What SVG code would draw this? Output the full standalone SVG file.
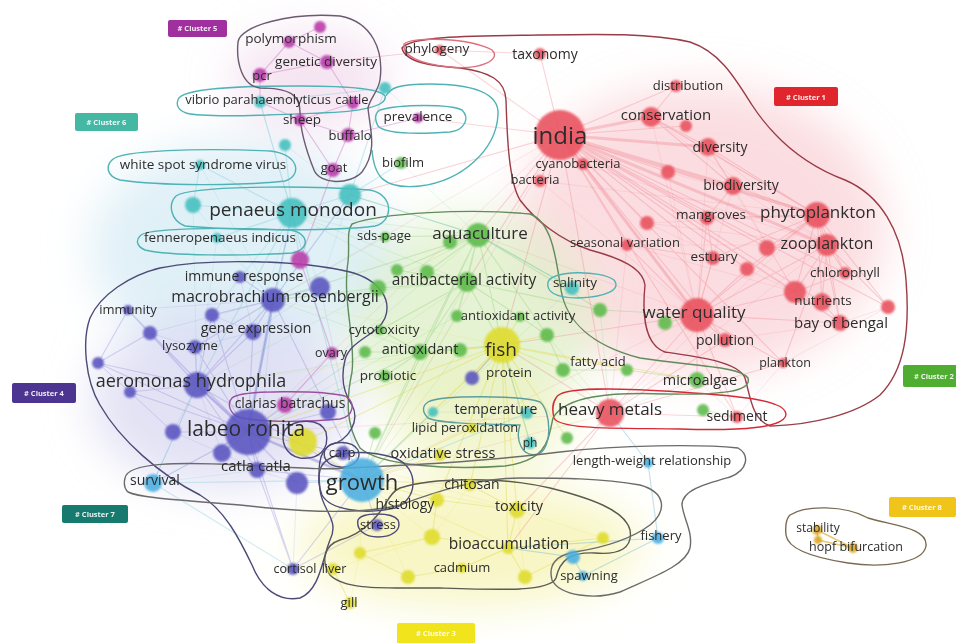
<svg xmlns="http://www.w3.org/2000/svg" width="956" height="643" viewBox="0 0 956 643">
<defs>
<filter id="haze" x="-50%" y="-50%" width="200%" height="200%"><feGaussianBlur stdDeviation="22"/></filter>
<filter id="soft" x="-30%" y="-30%" width="160%" height="160%"><feGaussianBlur stdDeviation="0.9"/></filter>
<style>
text{font-family:"Open Sans","Liberation Sans",sans-serif;fill:#2c2c2c;text-anchor:middle}
.node circle{filter:url(#soft);opacity:.88}
.c1 circle{fill:#e8505b}.c2 circle{fill:#5cba48}.c3 circle{fill:#dedb2b}.c4 circle{fill:#5852bf}
.c5 circle{fill:#b83aa9}.c6 circle{fill:#42bfbf}.c7 circle{fill:#4aaee0}.c8 circle{fill:#d9a420}
.lr{stroke:#ef7b88;stroke-opacity:.33;fill:none}.lg{stroke:#79c867;stroke-opacity:.3;fill:none}
.ly{stroke:#e2da45;stroke-opacity:.4;fill:none}.lp{stroke:#8884d8;stroke-opacity:.32;fill:none}
.lt{stroke:#6cc8d4;stroke-opacity:.32;fill:none}.lm{stroke:#c86cc0;stroke-opacity:.4;fill:none}
.lb{stroke:#5aa8d0;stroke-opacity:.35;fill:none}.lo{stroke:#d9a420;stroke-opacity:.6;fill:none}
.faint{stroke-opacity:.16}
.ol{fill:none;stroke-width:1.4;stroke-linejoin:round}
.badge text{fill:#fff;font-size:7.5px;font-weight:bold;fill-opacity:.9}
</style>
</defs>
<rect width="956" height="643" fill="#ffffff"/>
<g id="density" filter="url(#haze)">
<ellipse cx="700" cy="230" rx="185" ry="145" fill="#f8c6cd" opacity=".6"/>
<ellipse cx="470" cy="320" rx="125" ry="105" fill="#dcefc6" opacity=".75"/>
<ellipse cx="240" cy="250" rx="150" ry="110" fill="#cfe8f2" opacity=".65"/>
<ellipse cx="220" cy="400" rx="130" ry="90" fill="#d9d8f2" opacity=".75"/>
<ellipse cx="470" cy="545" rx="170" ry="60" fill="#f5f3b0" opacity=".75"/>
<ellipse cx="480" cy="420" rx="90" ry="60" fill="#eef2bd" opacity=".65"/>
<ellipse cx="310" cy="80" rx="80" ry="50" fill="#efd3ea" opacity=".6"/>
</g>
<g id="connectors">
<path class="lr" stroke-width="1.1" d="M560,135L540,54M560,135L440,50M560,135L676,86M560,135L686,126M560,135L583,164M560,135L540,181M560,135L668,172M560,135L707,218M560,135L647,223M560,135L627,245M560,135L767,248M560,135L713,258M560,135L747,269M560,135L845,273M560,135L795,292M560,135L822,302M560,135L840,323M560,135L725,340M560,135L783,363M560,135L610,413M560,135L737,417M560,135L478,235M560,135L502,345M560,135L350,195M560,135L418,118M560,135L467,282M560,135L888,307M817,215L827,245M817,215L845,273M817,215L795,292M817,215L822,302M817,215L840,323M817,215L888,307M817,215L733,186M817,215L708,147M817,215L707,218M817,215L713,258M817,215L697,315M817,215L651,117M817,215L767,248M817,215L747,269M827,245L795,292M827,245L822,302M827,245L845,273M827,245L840,323M827,245L888,307M827,245L697,315M827,245L767,248M827,245L783,363M697,315L610,413M697,315L725,340M697,315L737,417M697,315L795,292M697,315L627,245M697,315L707,218M697,315L713,258M697,315L697,380M697,315L502,345M697,315L840,323M697,315L783,363M697,315L747,269M610,413L737,417M610,413L725,340M610,413L502,345M610,413L508,548M610,413L517,510M610,413L783,363M708,147L733,186M651,117L676,86M651,117L708,147M540,54L440,50M733,186L707,218M707,218L713,258M713,258L627,245M795,292L840,323M795,292L845,273M822,302L840,323M440,50L327,62M651,117L733,186"/>
<path class="lr" stroke-width="3" stroke-opacity=".25" d="M560,135L651,117M560,135L817,215M560,135L697,315M560,135L708,147M560,135L733,186M560,135L827,245"/>
<path class="lr faint" stroke-width="1" d="M651,117L817,215M651,117L827,245M651,117L697,315M708,147L827,245M708,147L697,315M708,147L795,292M733,186L827,245M733,186L697,315M733,186L795,292M668,172L817,215M668,172L697,315M647,223L817,215M647,223L827,245M647,223L795,292M627,245L827,245M627,245L795,292M627,245L610,413M540,181L697,315M540,181L817,215M583,164L697,315M583,164L827,245M560,135L273,300M560,135L248,432M560,135L362,480M697,315L478,235M697,315L362,480M610,413L362,480M610,413L248,432M817,215L610,413M827,245L610,413M783,363L888,307M737,417L783,363M725,340L840,323M888,307L840,323"/>
<path class="lg" stroke-width="1.1" d="M478,235L467,282M478,235L427,272M478,235L385,237M478,235L457,316M478,235L502,345M478,235L420,352M478,235L362,480M478,235L572,288M478,235L350,195M478,235L273,300M478,235L600,310M478,235L547,335M478,235L450,242M478,235L397,270M467,282L427,272M467,282L397,270M467,282L378,288M467,282L457,316M467,282L420,352M467,282L380,330M467,282L502,345M467,282L520,317M467,282L547,335M467,282L600,310M420,352L460,350M420,352L365,352M420,352L502,345M420,352L362,480M420,352L248,432M378,288L273,300M380,330L420,352M600,310L697,315M563,370L627,370M627,370L697,380M547,335L563,370M665,323L697,315M703,410L737,417M385,376L420,352M375,433L362,480"/>
<path class="lg faint" stroke-width="1" d="M478,235L248,432M478,235L197,385M478,235L292,213M467,282L248,432M467,282L273,300M467,282L362,480M467,282L292,213M420,352L273,300M420,352L197,385M457,316L362,480M457,316L248,432M385,237L292,213M385,237L273,300M397,270L292,213M547,335L610,413M600,310L610,413M563,370L610,413M627,370L610,413M697,380L610,413M697,380L737,417M460,350L362,480M365,352L248,432"/>
<path class="ly" stroke-width="1.2" d="M502,345L460,350M502,345L520,317M502,345L547,335M502,345L563,370M502,345L472,378M502,345L433,412M502,345L527,413M502,345L362,480M502,345L248,432M502,345L517,510M502,345L437,500M502,345L470,485M502,345L508,548M502,345L697,380M502,345L627,370M502,345L303,442M502,345L530,443M502,345L567,438M362,480L437,500M362,480L470,485M517,510L508,548M508,548L432,537M508,548L525,577M508,548L603,538M508,548L462,568M517,510L470,485M437,500L432,537M360,553L408,577M333,569L350,603M408,577L462,568M303,442L362,480M303,442L248,432M432,537L360,553M525,577L603,538M362,480L472,428M362,480L440,455M437,500L517,510"/>
<path class="ly faint" stroke-width="1" d="M517,510L362,480M508,548L362,480M432,537L362,480M360,553L362,480M408,577L362,480M525,577L517,510M603,538L517,510M462,568L508,548M350,603L360,553M333,569L432,537M470,485L432,537M502,345L197,385M502,345L273,300M517,510L248,432M508,548L248,432"/>
<path class="lp" stroke-width="1.2" d="M248,432L197,385M248,432L273,300M248,432L257,470M248,432L362,480M248,432L173,432M248,432L222,453M248,432L297,483M248,432L285,405M248,432L328,412M248,432L153,483M248,432L293,569M248,432L253,332M248,432L128,310M248,432L195,347M248,432L343,453M248,432L98,363M248,432L130,392M248,432L212,315M248,432L150,333M197,385L98,363M197,385L130,392M197,385L212,315M197,385L150,333M197,385L195,347M197,385L128,310M197,385L273,300M197,385L362,480M197,385L253,332M197,385L257,470M273,300L240,277M273,300L320,287M273,300L253,332M273,300L292,213M273,300L350,195M273,300L362,480M273,300L212,315M273,300L195,347M128,310L98,363M150,333L98,363M293,569L362,480M293,569L257,470M362,480L257,470M362,480L297,483M362,480L343,453M362,480L377,525M377,525L293,569M502,345L472,378"/>
<path class="lp" stroke-width="3" stroke-opacity=".2" d="M248,432L197,385M248,432L362,480M248,432L273,300"/>
<path class="lp faint" stroke-width="1" d="M197,385L173,432M197,385L222,453M197,385L297,483M197,385L153,483M273,300L248,432M273,300L257,470M273,300L150,333M273,300L128,310M253,332L212,315M253,332L195,347M240,277L212,315M240,277L253,332M320,287L253,332M320,287L362,480M173,432L130,392M173,432L222,453M222,453L257,470M257,470L297,483M297,483L293,569M130,392L98,363M98,363L173,432M150,333L195,347"/>
<path class="lt" stroke-width="1.2" d="M292,213L193,205M292,213L350,195M292,213L200,165M292,213L217,238M292,213L260,102M292,213L285,145M292,213L300,260M292,213L362,480M292,213L248,432M350,195L385,88M350,195L401,163M260,102L385,88M200,165L193,205M362,480L153,483M153,483L197,385M362,480L433,412M362,480L527,413M530,443L502,345M572,288L478,235M292,213L197,385M350,195L478,235M153,483L293,569"/>
<path class="lt faint" stroke-width="1" d="M292,213L240,277M292,213L320,287M292,213L212,315M292,213L253,332M350,195L273,300M350,195L320,287M193,205L273,300M193,205L197,385M200,165L273,300M217,238L273,300M217,238L197,385M260,102L292,213M285,145L350,195M385,88L418,118M401,163L478,235M153,483L248,432M153,483L257,470M362,480L572,288M433,412L527,413"/>
<path class="lm" stroke-width="1.2" d="M320,27L289,42M289,42L327,62M327,62L260,75M289,42L260,75M260,75L260,102M300,120L348,135M348,135L333,170M353,103L348,135M300,120L333,170M353,103L300,120M418,118L348,135M333,170L300,260M300,260L332,353M285,405L332,353M300,120L260,102M327,62L353,103"/>
<path class="lb" stroke-width="1.2" d="M648,463L658,538M658,538L583,576M583,576L573,557M648,463L610,413M658,538L508,548M573,557L508,548"/>
<path class="lo" stroke-width="1.5" d="M817,530L853,548M817,530L818,540M818,540L853,548"/>
</g>
<g id="cluster-outlines">
<path class="ol" stroke="#9a3b46" d="M402,48C410,36 470,36 540,35C600,34 650,33 690,42C720,52 735,78 752,105C775,140 805,165 845,180C880,195 902,230 906,280C910,330 905,370 880,395C855,415 810,425 770,426C752,420 750,395 745,378C738,362 700,357 665,352C645,345 642,315 645,285C643,268 620,258 590,250C560,240 535,220 520,200C508,180 507,130 506,100C505,80 490,72 460,68C430,66 405,62 402,48Z"/>
<path class="ol" stroke="#e07080" d="M404,44C412,36 470,38 492,50C502,60 480,70 450,67C420,64 402,56 404,44Z"/>
<path class="ol" stroke="#d42a36" d="M556,398C560,386 620,388 680,392C740,396 785,400 786,414C786,428 740,431 680,429C620,428 560,430 554,418C552,410 553,402 556,398Z"/>
<path class="ol" stroke="#5f8c5a" d="M352,224C380,213 470,208 530,214C552,222 556,258 561,290C566,320 590,345 640,358C690,366 740,366 748,378C752,392 720,395 665,394C610,392 565,396 553,418C548,440 548,460 505,466C450,470 380,466 360,448C346,425 346,400 352,372C356,340 342,300 348,262C350,245 346,232 352,224Z"/>
<path class="ol" stroke="#4fb3b5" d="M178,100C180,88 240,86 300,86C340,86 380,88 385,96C388,106 360,112 320,113C270,115 205,118 186,113C178,110 176,105 178,100Z"/>
<path class="ol" stroke="#4fb3b5" d="M380,110C400,104 450,104 462,110C470,118 465,130 450,132C420,134 385,134 378,126C374,118 375,113 380,110Z"/>
<path class="ol" stroke="#4fb3b5" d="M372,150C374,175 382,190 420,186C462,181 496,150 498,115C500,92 470,84 430,84C398,84 390,88 386,96"/>
<path class="ol" stroke="#4fb3b5" d="M112,160C120,150 200,148 270,151C300,154 302,176 285,181C240,186 160,186 120,180C106,176 106,166 112,160Z"/>
<path class="ol" stroke="#4fb3b5" d="M176,196C190,186 300,185 370,190C395,195 393,222 375,226C330,232 230,230 185,226C170,220 168,204 176,196Z"/>
<path class="ol" stroke="#4fb3b5" d="M140,236C145,228 220,227 290,230C310,233 310,250 292,253C240,256 170,256 145,250C136,246 136,240 140,236Z"/>
<path class="ol" stroke="#4fb3b5" d="M548,282C552,270 600,270 614,280C622,290 605,297 578,298C556,298 546,292 548,282Z"/>
<path class="ol" stroke="#5a9fa0" d="M428,402C440,395 520,395 540,402C552,412 552,450 538,454C522,458 515,440 520,425C490,424 440,424 428,418C422,412 422,406 428,402Z"/>
<path class="ol" stroke="#6b5a70" d="M238,42C240,26 290,12 340,16C372,22 384,50 380,80C378,92 370,98 368,108C370,130 378,150 362,172C350,185 320,185 314,170C306,150 300,130 300,112C300,95 290,88 260,88C242,86 236,62 238,42Z"/>
<path class="ol" stroke="#4d4a78" d="M160,268C210,258 300,260 350,272C380,280 392,300 385,318C378,335 350,340 345,360C340,380 345,395 352,405C360,420 350,440 330,445C318,452 318,470 320,490C322,510 340,520 330,540C322,560 320,590 300,598C280,602 262,590 252,565C240,540 225,510 200,495C160,475 120,440 100,405C85,380 82,340 90,318C100,295 130,275 160,268Z"/>
<path class="ol" stroke="#9a4fa0" d="M232,398C240,390 320,390 345,396C356,402 354,416 340,419C300,423 250,422 236,416C228,410 228,402 232,398Z"/>
<path class="ol" stroke="#4d4a78" d="M325,450C330,440 352,440 358,450C362,460 352,468 340,467C328,466 322,458 325,450Z"/>
<path class="ol" stroke="#4d4a78" d="M285,430C295,418 320,418 326,432C330,450 318,460 300,458C285,455 280,440 285,430Z"/>
<path class="ol" stroke="#4d4a78" d="M358,520C362,512 392,512 398,520C402,530 392,537 378,537C365,537 356,530 358,520Z"/>
<path class="ol" stroke="#4d4a78" d="M320,470C325,452 360,448 395,458C420,468 418,500 395,508C365,515 330,510 322,495C318,485 318,477 320,470Z"/>
<path class="ol" stroke="#5a5a50" d="M400,488C430,478 500,476 550,488C590,498 625,510 630,530C633,548 620,555 595,553C570,552 560,560 556,578C550,592 500,590 440,588C380,588 345,590 330,575C320,560 325,545 340,540C360,535 375,520 385,505C390,495 395,490 400,488Z"/>
<path class="ol" stroke="#6b6b6b" d="M125,478C128,462 180,462 240,465C300,468 330,470 345,468C400,466 480,462 560,452C620,445 700,444 738,448C750,455 748,470 730,477C705,484 682,490 682,505C684,520 693,532 690,548C686,566 650,578 620,592C595,600 560,596 552,580C548,565 556,555 575,552C600,548 630,540 650,525C668,510 665,492 640,485C600,478 560,478 520,478C480,478 440,490 400,505C360,515 300,512 240,505C180,500 140,498 128,492C124,488 124,482 125,478Z"/>
<path class="ol" stroke="#7a6a50" d="M790,515C805,505 845,505 868,518C895,526 928,528 926,546C923,564 880,568 848,563C815,558 788,550 786,535C785,525 786,519 790,515Z"/>
</g>
<g id="nodes">
<g id="n-r-a" class="node c1"><circle cx="686" cy="126" r="6"/></g>
<g id="n-r-b" class="node c1"><circle cx="668" cy="172" r="7"/></g>
<g id="n-r-c" class="node c1"><circle cx="647" cy="223" r="7"/></g>
<g id="n-r-d" class="node c1"><circle cx="767" cy="248" r="8"/></g>
<g id="n-r-e" class="node c1"><circle cx="747" cy="269" r="7"/></g>
<g id="n-r-f" class="node c1"><circle cx="795" cy="292" r="11"/></g>
<g id="n-r-g" class="node c1"><circle cx="888" cy="307" r="7"/></g>
<g id="n-g-a" class="node c2"><circle cx="450" cy="242" r="7"/></g>
<g id="n-g-b" class="node c2"><circle cx="427" cy="272" r="7"/></g>
<g id="n-g-c" class="node c2"><circle cx="397" cy="270" r="6"/></g>
<g id="n-g-d" class="node c2"><circle cx="378" cy="288" r="8"/></g>
<g id="n-g-e" class="node c2"><circle cx="520" cy="317" r="5"/></g>
<g id="n-g-f" class="node c2"><circle cx="600" cy="310" r="7"/></g>
<g id="n-g-g" class="node c2"><circle cx="460" cy="350" r="7"/></g>
<g id="n-g-h" class="node c2"><circle cx="365" cy="352" r="6"/></g>
<g id="n-g-i" class="node c2"><circle cx="547" cy="335" r="7"/></g>
<g id="n-g-j" class="node c2"><circle cx="563" cy="370" r="7"/></g>
<g id="n-g-k" class="node c2"><circle cx="665" cy="323" r="7"/></g>
<g id="n-g-l" class="node c2"><circle cx="703" cy="410" r="6"/></g>
<g id="n-g-m" class="node c2"><circle cx="375" cy="433" r="6"/></g>
<g id="n-g-n" class="node c2"><circle cx="567" cy="438" r="6"/></g>
<g id="n-y-a" class="node c3"><circle cx="303" cy="442" r="14"/></g>
<g id="n-y-b" class="node c3"><circle cx="432" cy="537" r="8"/></g>
<g id="n-y-c" class="node c3"><circle cx="360" cy="553" r="6"/></g>
<g id="n-y-d" class="node c3"><circle cx="408" cy="577" r="7"/></g>
<g id="n-y-e" class="node c3"><circle cx="525" cy="577" r="7"/></g>
<g id="n-y-f" class="node c3"><circle cx="603" cy="538" r="6"/></g>
<g id="n-y-g" class="node c3"><circle cx="472" cy="428" r="5"/></g>
<g id="n-y-h" class="node c3"><circle cx="440" cy="455" r="6"/></g>
<g id="n-p-a" class="node c4"><circle cx="320" cy="287" r="10"/></g>
<g id="n-p-b" class="node c4"><circle cx="212" cy="315" r="7"/></g>
<g id="n-p-c" class="node c4"><circle cx="150" cy="333" r="7"/></g>
<g id="n-p-d" class="node c4"><circle cx="98" cy="363" r="6"/></g>
<g id="n-p-e" class="node c4"><circle cx="130" cy="392" r="6"/></g>
<g id="n-p-f" class="node c4"><circle cx="173" cy="432" r="8"/></g>
<g id="n-p-g" class="node c4"><circle cx="222" cy="453" r="9"/></g>
<g id="n-p-h" class="node c4"><circle cx="297" cy="483" r="11"/></g>
<g id="n-p-i" class="node c4"><circle cx="328" cy="412" r="8"/></g>
<g id="n-m-a" class="node c5"><circle cx="320" cy="27" r="6"/></g>
<g id="n-m-b" class="node c5"><circle cx="300" cy="260" r="9"/></g>
<g id="n-t-a" class="node c6"><circle cx="385" cy="88" r="6"/></g>
<g id="n-t-b" class="node c6"><circle cx="285" cy="145" r="6"/></g>
<g id="n-t-c" class="node c6"><circle cx="193" cy="205" r="8"/></g>
<g id="n-t-d" class="node c6"><circle cx="350" cy="195" r="11"/></g>
<g id="n-t-e" class="node c6"><circle cx="527" cy="413" r="6"/></g>
<g id="n-s-a" class="node c7"><circle cx="573" cy="557" r="7"/></g>
<g id="n-o-a" class="node c8"><circle cx="818" cy="540" r="4"/></g>

<g id="n-india" class="node c1"><circle cx="560" cy="135" r="25"/><text x="560" y="144" font-size="24">india</text></g>
<g id="n-taxonomy" class="node c1"><circle cx="540" cy="54" r="6"/><text x="545" y="59" font-size="14">taxonomy</text></g>
<g id="n-phylogeny" class="node c1"><circle cx="440" cy="50" r="5"/><text x="437" y="53" font-size="13.5">phylogeny</text></g>
<g id="n-distribution" class="node c1"><circle cx="676" cy="86" r="6"/><text x="688" y="90" font-size="13">distribution</text></g>
<g id="n-conservation" class="node c1"><circle cx="651" cy="117" r="10"/><text x="666" y="120" font-size="15">conservation</text></g>
<g id="n-diversity" class="node c1"><circle cx="708" cy="147" r="9"/><text x="720" y="152" font-size="14">diversity</text></g>
<g id="n-cyanobacteria" class="node c1"><circle cx="583" cy="164" r="6"/><text x="578" y="168" font-size="13">cyanobacteria</text></g>
<g id="n-bacteria" class="node c1"><circle cx="540" cy="181" r="6"/><text x="535" y="184" font-size="13">bacteria</text></g>
<g id="n-biodiversity" class="node c1"><circle cx="733" cy="186" r="9"/><text x="741" y="190" font-size="14">biodiversity</text></g>
<g id="n-mangroves" class="node c1"><circle cx="707" cy="218" r="7"/><text x="711" y="219" font-size="13.5">mangroves</text></g>
<g id="n-phytoplankton" class="node c1"><circle cx="817" cy="215" r="13"/><text x="818" y="218" font-size="17">phytoplankton</text></g>
<g id="n-seasonal" class="node c1"><circle cx="627" cy="245" r="6"/><text x="625" y="247" font-size="13">seasonal variation</text></g>
<g id="n-zooplankton" class="node c1"><circle cx="827" cy="245" r="11"/><text x="827" y="249" font-size="16">zooplankton</text></g>
<g id="n-estuary" class="node c1"><circle cx="713" cy="258" r="7"/><text x="714" y="261" font-size="13.5">estuary</text></g>
<g id="n-chlorophyll" class="node c1"><circle cx="845" cy="273" r="6"/><text x="845" y="277" font-size="13.5">chlorophyll</text></g>
<g id="n-nutrients" class="node c1"><circle cx="822" cy="302" r="9"/><text x="823" y="305" font-size="13.5">nutrients</text></g>
<g id="n-waterquality" class="node c1"><circle cx="697" cy="315" r="17"/><text x="694" y="318" font-size="17">water quality</text></g>
<g id="n-bayofbengal" class="node c1"><circle cx="840" cy="323" r="8"/><text x="841" y="328" font-size="15">bay of bengal</text></g>
<g id="n-pollution" class="node c1"><circle cx="725" cy="340" r="7"/><text x="725" y="345" font-size="14">pollution</text></g>
<g id="n-plankton" class="node c1"><circle cx="783" cy="363" r="5"/><text x="785" y="367" font-size="12.5">plankton</text></g>
<g id="n-heavymetals" class="node c1"><circle cx="610" cy="413" r="14"/><text x="610" y="415" font-size="17">heavy metals</text></g>
<g id="n-sediment" class="node c1"><circle cx="737" cy="417" r="6"/><text x="737" y="421" font-size="14">sediment</text></g>

<g id="n-aquaculture" class="node c2"><circle cx="478" cy="235" r="12"/><text x="480" y="239" font-size="17">aquaculture</text></g>
<g id="n-sdspage" class="node c2"><circle cx="385" cy="237" r="5"/><text x="384" y="240" font-size="13">sds-page</text></g>
<g id="n-antibacterial" class="node c2"><circle cx="467" cy="282" r="10"/><text x="464" y="285" font-size="15.5">antibacterial activity</text></g>
<g id="n-antioxidantactivity" class="node c2"><circle cx="457" cy="316" r="6"/><text x="518" y="320" font-size="13">antioxidant activity</text></g>
<g id="n-cytotoxicity" class="node c2"><circle cx="380" cy="330" r="5"/><text x="384" y="334" font-size="13.5">cytotoxicity</text></g>
<g id="n-antioxidant" class="node c2"><circle cx="420" cy="352" r="8"/><text x="420" y="354" font-size="14.5">antioxidant</text></g>
<g id="n-fattyacid" class="node c2"><circle cx="627" cy="370" r="6"/><text x="598" y="366" font-size="13">fatty acid</text></g>
<g id="n-microalgae" class="node c2"><circle cx="697" cy="380" r="8"/><text x="700" y="385" font-size="14.5">microalgae</text></g>
<g id="n-probiotic" class="node c2"><circle cx="385" cy="376" r="6"/><text x="388" y="380" font-size="13.5">probiotic</text></g>
<g id="n-biofilm" class="node c2"><circle cx="401" cy="163" r="6"/><text x="403" y="167" font-size="13">biofilm</text></g>

<g id="n-fish" class="node c3"><circle cx="502" cy="345" r="18"/><text x="501" y="356" font-size="19">fish</text></g>
<g id="n-lipid" class="node c3"><text x="465" y="432" font-size="13">lipid peroxidation</text></g>
<g id="n-oxidative" class="node c3"><text x="443" y="458" font-size="14.5">oxidative stress</text></g>
<g id="n-chitosan" class="node c3"><circle cx="470" cy="485" r="6"/><text x="472" y="489" font-size="14">chitosan</text></g>
<g id="n-histology" class="node c3"><circle cx="437" cy="500" r="7"/><text x="405" y="509" font-size="14">histology</text></g>
<g id="n-toxicity" class="node c3"><circle cx="517" cy="510" r="8"/><text x="519" y="511" font-size="14.5">toxicity</text></g>
<g id="n-bioaccumulation" class="node c3"><circle cx="508" cy="548" r="6"/><text x="509" y="549" font-size="15.5">bioaccumulation</text></g>
<g id="n-cadmium" class="node c3"><circle cx="462" cy="568" r="5"/><text x="462" y="572" font-size="13">cadmium</text></g>
<g id="n-liver" class="node c3"><circle cx="333" cy="569" r="6"/><text x="334" y="573" font-size="12.5">liver</text></g>
<g id="n-gill" class="node c3"><circle cx="350" cy="603" r="6"/><text x="349" y="607" font-size="13">gill</text></g>

<g id="n-macrobrachium" class="node c4"><circle cx="273" cy="300" r="12"/><text x="275" y="302" font-size="16">macrobrachium rosenbergii</text></g>
<g id="n-immuneresponse" class="node c4"><circle cx="240" cy="277" r="6"/><text x="244" y="281" font-size="14">immune response</text></g>
<g id="n-immunity" class="node c4"><circle cx="128" cy="310" r="5"/><text x="128" y="314" font-size="13">immunity</text></g>
<g id="n-geneexpression" class="node c4"><circle cx="253" cy="332" r="8"/><text x="256" y="333" font-size="14.5">gene expression</text></g>
<g id="n-lysozyme" class="node c4"><circle cx="195" cy="347" r="7"/><text x="190" y="350" font-size="13">lysozyme</text></g>
<g id="n-aeromonas" class="node c4"><circle cx="197" cy="385" r="13"/><text x="191" y="387" font-size="18">aeromonas hydrophila</text></g>
<g id="n-labeo" class="node c4"><circle cx="248" cy="432" r="23"/><text x="246" y="436" font-size="21">labeo rohita</text></g>
<g id="n-catla" class="node c4"><circle cx="257" cy="470" r="8"/><text x="256" y="471" font-size="15">catla catla</text></g>
<g id="n-carp" class="node c4"><circle cx="343" cy="453" r="7"/><text x="342" y="457" font-size="13">carp</text></g>
<g id="n-protein" class="node c4"><circle cx="472" cy="378" r="7"/><text x="509" y="377" font-size="13.5">protein</text></g>
<g id="n-stress" class="node c4"><circle cx="377" cy="525" r="6"/><text x="378" y="529" font-size="13">stress</text></g>
<g id="n-cortisol" class="node c4"><circle cx="293" cy="569" r="6"/><text x="295" y="573" font-size="12.5">cortisol</text></g>

<g id="n-polymorphism" class="node c5"><circle cx="289" cy="42" r="6"/><text x="291" y="43" font-size="13.5">polymorphism</text></g>
<g id="n-geneticdiversity" class="node c5"><circle cx="327" cy="62" r="7"/><text x="326" y="66" font-size="13.5">genetic diversity</text></g>
<g id="n-pcr" class="node c5"><circle cx="260" cy="75" r="7"/><text x="262" y="80" font-size="13">pcr</text></g>
<g id="n-cattle" class="node c5"><circle cx="353" cy="103" r="6"/><text x="352" y="104" font-size="13">cattle</text></g>
<g id="n-sheep" class="node c5"><circle cx="300" cy="120" r="6"/><text x="302" y="124" font-size="13.5">sheep</text></g>
<g id="n-buffalo" class="node c5"><circle cx="348" cy="135" r="7"/><text x="350" y="140" font-size="13">buffalo</text></g>
<g id="n-prevalence" class="node c5"><circle cx="418" cy="118" r="5"/><text x="418" y="121" font-size="13.5">prevalence</text></g>
<g id="n-goat" class="node c5"><circle cx="333" cy="170" r="7"/><text x="334" y="172" font-size="13">goat</text></g>
<g id="n-ovary" class="node c5"><circle cx="332" cy="353" r="6"/><text x="331" y="357" font-size="12.5">ovary</text></g>
<g id="n-clarias" class="node c5"><circle cx="285" cy="405" r="8"/><text x="290" y="408" font-size="14">clarias batrachus</text></g>

<g id="n-vibrio" class="node c6"><circle cx="260" cy="102" r="6"/><text x="258" y="104" font-size="13">vibrio parahaemolyticus</text></g>
<g id="n-whitespot" class="node c6"><circle cx="200" cy="165" r="5"/><text x="203" y="169" font-size="13.5">white spot syndrome virus</text></g>
<g id="n-penaeus" class="node c6"><circle cx="292" cy="213" r="15"/><text x="293" y="216" font-size="19">penaeus monodon</text></g>
<g id="n-fenneropenaeus" class="node c6"><circle cx="217" cy="238" r="5"/><text x="220" y="242" font-size="13.5">fenneropenaeus indicus</text></g>
<g id="n-salinity" class="node c6"><circle cx="572" cy="288" r="7"/><text x="575" y="287" font-size="13.5">salinity</text></g>
<g id="n-temperature" class="node c6"><circle cx="433" cy="412" r="5"/><text x="496" y="414" font-size="14">temperature</text></g>
<g id="n-ph" class="node c6"><circle cx="530" cy="443" r="6"/><text x="530" y="447" font-size="12">ph</text></g>

<g id="n-growth" class="node c7"><circle cx="362" cy="480" r="22"/><text x="362" y="490" font-size="22">growth</text></g>
<g id="n-survival" class="node c7"><circle cx="153" cy="483" r="9"/><text x="155" y="485" font-size="14">survival</text></g>
<g id="n-lengthweight" class="node c7"><circle cx="648" cy="463" r="5"/><text x="652" y="465" font-size="13">length-weight relationship</text></g>
<g id="n-fishery" class="node c7"><circle cx="658" cy="538" r="6"/><text x="661" y="540" font-size="13">fishery</text></g>
<g id="n-spawning" class="node c7"><circle cx="583" cy="576" r="5"/><text x="589" y="580" font-size="13">spawning</text></g>

<g id="n-stability" class="node c8"><circle cx="817" cy="530" r="5"/><text x="818" y="532" font-size="12">stability</text></g>
<g id="n-hopf" class="node c8"><circle cx="853" cy="548" r="5"/><text x="856" y="551" font-size="12.5">hopf bifurcation</text></g>
</g>
<g id="legend">
<g id="badge-1" class="badge"><rect x="774" y="87" width="64" height="19" rx="2" fill="#e0262c"/><text x="806" y="99.5">#  Cluster 1</text></g>
<g id="badge-2" class="badge"><rect x="903" y="365" width="60" height="22" rx="2" fill="#4fae32"/><text x="934" y="378.5">#  Cluster 2</text></g>
<g id="badge-3" class="badge"><rect x="397" y="623" width="78" height="21" rx="2" fill="#f1e41c"/><text x="436" y="636">#  Cluster 3</text></g>
<g id="badge-4" class="badge"><rect x="12" y="383" width="64" height="20" rx="2" fill="#4b3590"/><text x="44" y="395.5">#  Cluster 4</text></g>
<g id="badge-5" class="badge"><rect x="168" y="20" width="59" height="17" rx="2" fill="#a1309f"/><text x="197.5" y="31">#  Cluster 5</text></g>
<g id="badge-6" class="badge"><rect x="75" y="113" width="63" height="18" rx="2" fill="#45b8a4"/><text x="106.5" y="124.5">#  Cluster 6</text></g>
<g id="badge-7" class="badge"><rect x="62" y="505" width="66" height="18" rx="2" fill="#177a6e"/><text x="95" y="516.5">#  Cluster 7</text></g>
<g id="badge-8" class="badge"><rect x="889" y="497" width="67" height="20" rx="2" fill="#f0c419"/><text x="922" y="509.5">#  Cluster 8</text></g>
</g>
</svg>
